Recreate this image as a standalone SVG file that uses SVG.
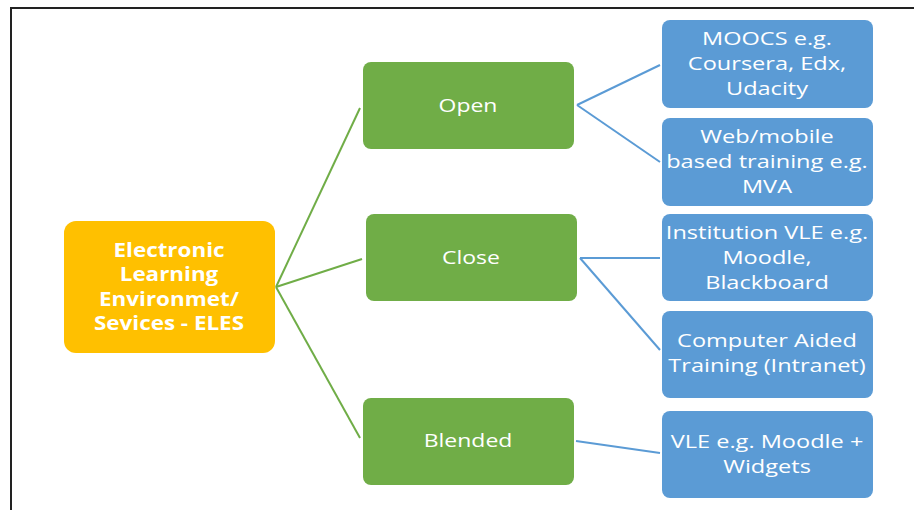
<svg xmlns="http://www.w3.org/2000/svg" width="914" height="510" viewBox="0 0 914 510">
<style>
.frame{fill:none;stroke:#222;stroke-width:2}
.root{fill:#FFC000}
.mid{fill:#70AD47}
.leaf{fill:#5B9BD5}
.gl{stroke:#70AD47;stroke-width:2;fill:none}
.bl{stroke:#5B9BD5;stroke-width:2;fill:none}
text{font-family:"Open Sans","DejaVu Sans",sans-serif;fill:#fff;text-anchor:middle}
.tb{font-weight:bold;font-size:19px}
.t{font-size:19px}
</style>
<rect width="914" height="510" fill="#fff"/>
<path class="frame" d="M11,510 V8 H914"/>
<g id="connectors">
<line class="gl" x1="276" y1="287" x2="360" y2="108"/>
<line class="gl" x1="276" y1="287" x2="362" y2="259"/>
<line class="gl" x1="276" y1="287" x2="360" y2="438"/>
<line class="bl" x1="577" y1="105" x2="660" y2="65"/>
<line class="bl" x1="577" y1="105" x2="660" y2="162"/>
<line class="bl" x1="580" y1="258" x2="660" y2="258"/>
<line class="bl" x1="580" y1="258" x2="660" y2="350"/>
<line class="bl" x1="576" y1="441" x2="660" y2="453"/>
</g>
<g id="eles">
<rect class="root" x="64" y="221" width="211" height="132" rx="12"/>
<g transform="translate(169,0) scale(1.18,1)">
<text class="tb" x="0" y="257">Electronic</text>
<text class="tb" x="0" y="281">Learning</text>
<text class="tb" x="0" y="306">Environmet/</text>
<text class="tb" x="0" y="330">Sevices - ELES</text>
</g>
</g>
<g id="open">
<rect class="mid" x="363" y="62" width="211" height="87" rx="8"/>
<text class="t" transform="translate(468,0) scale(1.21,1)" x="0" y="112">Open</text>
</g>
<g id="close">
<rect class="mid" x="366" y="214" width="211" height="87" rx="8"/>
<text class="t" transform="translate(471,0) scale(1.21,1)" x="0" y="264">Close</text>
</g>
<g id="blended">
<rect class="mid" x="363" y="398" width="211" height="87" rx="8"/>
<text class="t" transform="translate(468,0) scale(1.21,1)" x="0" y="447">Blended</text>
</g>
<g id="moocs">
<rect class="leaf" x="662" y="20" width="211" height="88" rx="8"/>
<g transform="translate(767,0) scale(1.24,1)">
<text class="t" x="0" y="45">MOOCS e.g.</text>
<text class="t" x="0" y="70">Coursera, Edx,</text>
<text class="t" x="0" y="95">Udacity</text>
</g>
</g>
<g id="web">
<rect class="leaf" x="662" y="118" width="211" height="88" rx="8"/>
<g transform="translate(767,0) scale(1.24,1)">
<text class="t" x="0" y="143">Web/mobile</text>
<text class="t" x="0" y="168">based training e.g.</text>
<text class="t" x="0" y="193">MVA</text>
</g>
</g>
<g id="vle-inst">
<rect class="leaf" x="662" y="214" width="211" height="87" rx="8"/>
<g transform="translate(767,0) scale(1.24,1)">
<text class="t" x="0" y="239">Institution VLE e.g.</text>
<text class="t" x="0" y="264">Moodle,</text>
<text class="t" x="0" y="289">Blackboard</text>
</g>
</g>
<g id="cat">
<rect class="leaf" x="662" y="311" width="211" height="87" rx="8"/>
<g transform="translate(767,0) scale(1.24,1)">
<text class="t" x="0" y="347">Computer Aided</text>
<text class="t" x="0" y="372">Training (Intranet)</text>
</g>
</g>
<g id="vle-widgets">
<rect class="leaf" x="662" y="411" width="211" height="87" rx="8"/>
<g transform="translate(767,0) scale(1.24,1)">
<text class="t" x="0" y="448">VLE e.g. Moodle +</text>
<text class="t" x="0" y="473">Widgets</text>
</g>
</g>
</svg>
